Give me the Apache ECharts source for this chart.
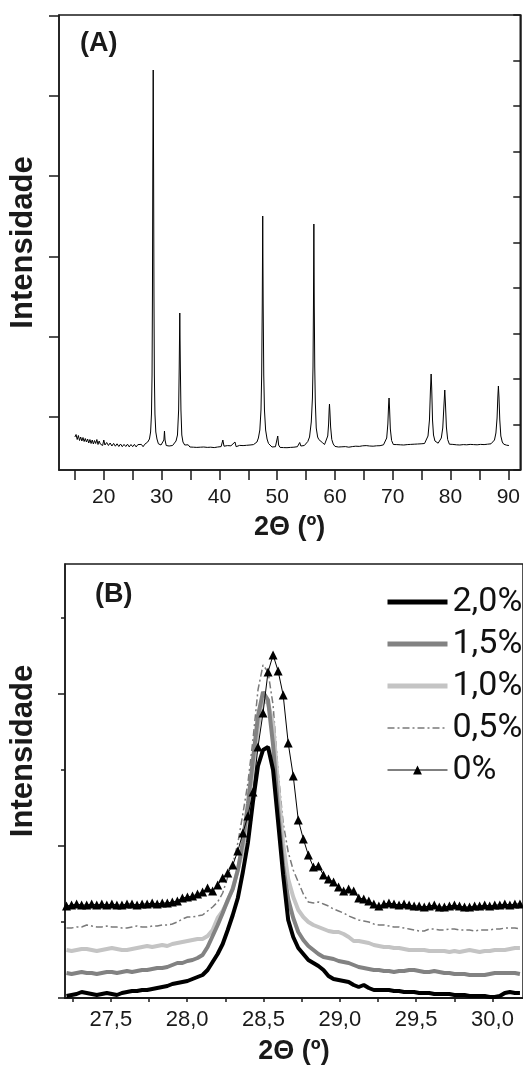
<!DOCTYPE html>
<html>
<head>
<meta charset="utf-8">
<script src="https://cdn.jsdelivr.net/npm/echarts@6/dist/echarts.min.js"></script>
<style>
  html, body { margin: 0; padding: 0; background: #fff; }
  #chart { width: 523px; height: 1067px; }
</style>
</head>
<body>
<div id="chart"></div>
<script>
// (A) difratograma completo: [2θ, intensidade]
const patternA = [
  [15.0, 330], [15.2, 355], [15.4, 305], [15.6, 345], [15.8, 295], [16.0, 330], [16.2, 290], [16.4, 325],
  [16.6, 285], [16.8, 315], [17.0, 280], [17.2, 310], [17.4, 270], [17.6, 305], [17.8, 265], [18.0, 300],
  [18.2, 260], [18.4, 295], [18.6, 265], [18.8, 305], [19.0, 255], [19.2, 290], [19.4, 260], [19.6, 280],
  [19.8, 245], [20.0, 300], [20.2, 250], [20.5, 275], [20.8, 245], [21.1, 270], [21.4, 240], [21.7, 266],
  [22.0, 238], [22.3, 262], [22.6, 235], [22.9, 260], [23.2, 233], [23.5, 256], [23.8, 235], [24.1, 258],
  [24.4, 231], [24.7, 255], [25.0, 233], [25.3, 256], [25.6, 231], [25.9, 254], [26.2, 235], [26.5, 256],
  [26.8, 233], [27.1, 258], [27.4, 250],
  [27.6, 280], [27.9, 310], [28.1, 380], [28.25, 560], [28.35, 950], [28.42, 1750], [28.48, 3000],
  [28.55, 4000], [28.62, 3000], [28.68, 1750], [28.75, 950], [28.85, 560], [29.0, 380], [29.2, 310],
  [29.45, 262], [29.7, 280], [29.9, 250], [30.2, 255], [30.4, 300], [30.5, 390], [30.6, 300], [30.8, 245],
  [31.0, 258], [31.3, 240], [31.6, 255], [31.9, 245], [32.2, 260], [32.5, 290], [32.75, 350], [32.95, 600],
  [33.05, 1020], [33.15, 1570], [33.25, 1020], [33.35, 600], [33.5, 350], [33.7, 280], [34.0, 250],
  [34.3, 236], [34.6, 252], [34.9, 230], [35.2, 247], [35.5, 228], [35.8, 246], [36.1, 226], [36.4, 244],
  [36.7, 228], [37.0, 247], [37.3, 230], [37.6, 242], [37.9, 226], [38.2, 245], [38.5, 228], [38.8, 244],
  [39.1, 224], [39.4, 242], [39.7, 230], [40.0, 247], [40.3, 234], [40.6, 300], [40.8, 238], [41.1, 226],
  [41.4, 244], [41.7, 224], [42.0, 242], [42.3, 228], [42.7, 280], [42.9, 233], [43.2, 226], [43.5, 246],
  [43.8, 228], [44.1, 244], [44.4, 226], [44.7, 247], [45.0, 230], [45.3, 250], [45.6, 236], [45.9, 254],
  [46.2, 255], [46.5, 280], [46.75, 320], [47.0, 400], [47.2, 600], [47.32, 950], [47.42, 1650],
  [47.5, 2540], [47.58, 1650], [47.68, 950], [47.8, 600], [48.0, 400], [48.25, 310], [48.5, 265],
  [48.8, 245], [49.1, 230], [49.4, 248], [49.7, 233], [50.0, 250], [50.1, 340], [50.25, 250], [50.5, 226],
  [50.8, 242], [51.1, 224], [51.4, 240], [51.7, 223], [52.0, 242], [52.3, 226], [52.6, 244], [52.9, 228],
  [53.2, 246], [53.5, 233], [53.9, 275], [54.1, 240], [54.4, 252], [54.7, 245], [55.0, 265], [55.3, 285],
  [55.6, 330], [55.9, 480], [56.1, 720], [56.2, 1030], [56.28, 1650], [56.35, 2460], [56.42, 1650],
  [56.5, 1030], [56.6, 680], [56.76, 420], [57.0, 330], [57.2, 305], [57.5, 290], [57.8, 275], [58.2, 255],
  [58.5, 275], [58.75, 340], [58.9, 460], [59.0, 610], [59.05, 660], [59.12, 590], [59.25, 430],
  [59.45, 305], [59.7, 260], [60.0, 236], [60.3, 250], [60.6, 230], [60.9, 248], [61.2, 232], [61.5, 252],
  [61.8, 234], [62.1, 250], [62.4, 228], [62.7, 247], [63.0, 234], [63.3, 252], [63.6, 238], [63.9, 256],
  [64.2, 236], [64.5, 254], [64.8, 242], [65.1, 262], [65.4, 244], [65.7, 258], [66.0, 240], [66.3, 257],
  [66.6, 238], [66.9, 254], [67.2, 242], [67.5, 258], [67.8, 243], [68.1, 260], [68.4, 252], [68.7, 270],
  [68.95, 320], [69.15, 460], [69.28, 650], [69.36, 720], [69.45, 610], [69.58, 410], [69.8, 295],
  [70.1, 255], [70.4, 238], [70.7, 254], [71.0, 236], [71.3, 252], [71.6, 234], [71.9, 250], [72.2, 236],
  [72.5, 254], [72.8, 238], [73.1, 256], [73.4, 240], [73.7, 258], [74.0, 242], [74.3, 260], [74.6, 244],
  [74.9, 262], [75.2, 252], [75.5, 265], [75.8, 285], [76.1, 340], [76.35, 500], [76.52, 800],
  [76.64, 960], [76.74, 820], [76.88, 500], [77.05, 350], [77.3, 290], [77.6, 272], [77.85, 268],
  [78.1, 285], [78.4, 320], [78.65, 420], [78.85, 640], [79.0, 800], [79.12, 660], [79.28, 430],
  [79.5, 305], [79.8, 258], [80.1, 240], [80.4, 256], [80.7, 236], [81.0, 252], [81.3, 234], [81.6, 250],
  [81.9, 238], [82.2, 254], [82.5, 236], [82.8, 252], [83.1, 240], [83.4, 256], [83.7, 238], [84.0, 254],
  [84.3, 236], [84.6, 252], [84.9, 240], [85.2, 256], [85.5, 238], [85.8, 254], [86.1, 242], [86.4, 258],
  [86.7, 248], [87.0, 262], [87.3, 270], [87.6, 300], [87.85, 370], [88.05, 520], [88.18, 730],
  [88.28, 840], [88.38, 730], [88.52, 500], [88.7, 340], [88.95, 280], [89.2, 258], [89.45, 272],
  [89.7, 248], [89.9, 264], [90.1, 245]
];
const yTicksA = [530, 1335, 2135, 2940, 3740, 4540];
const xTicksA = [15, 20, 25, 30, 35, 40, 45, 50, 55, 60, 65, 70, 75, 80, 85, 90];
const xLabelsA = [20, 30, 40, 50, 60, 70, 80, 90];

// (B) detalhe do pico principal
const thetaB = [
  27.210, 27.243, 27.276, 27.309, 27.342, 27.375, 27.408, 27.441, 27.474, 27.507,
  27.540, 27.573, 27.606, 27.639, 27.672, 27.705, 27.738, 27.771, 27.804, 27.837,
  27.870, 27.903, 27.936, 27.969, 28.002, 28.035, 28.068, 28.101, 28.134, 28.167,
  28.200, 28.233, 28.266, 28.299, 28.332, 28.365, 28.398, 28.431, 28.464, 28.497,
  28.530, 28.563, 28.596, 28.629, 28.662, 28.695, 28.728, 28.761, 28.794, 28.827,
  28.860, 28.893, 28.926, 28.959, 28.992, 29.025, 29.058, 29.091, 29.124, 29.157,
  29.190, 29.223, 29.256, 29.289, 29.322, 29.355, 29.388, 29.421, 29.454, 29.487,
  29.520, 29.553, 29.586, 29.619, 29.652, 29.685, 29.718, 29.751, 29.784, 29.817,
  29.850, 29.883, 29.916, 29.949, 29.982, 30.015, 30.048, 30.081, 30.114, 30.147,
  30.180
];
const pct20 = [
  20, 30, 40, 60, 50, 40, 30, 40, 50, 40, 30, 50, 60, 70, 70, 80, 80, 90, 100, 110, 120, 140, 150,
  160, 170, 190, 210, 230, 280, 360, 440,
  540, 680, 830, 1000, 1260, 1550, 1960, 2320, 2480, 2510,
  2280, 1760, 1230, 780, 610, 500, 440, 380, 350, 320,
  280, 220, 190, 180, 170, 160, 130, 110, 130, 100,
  80, 80, 80, 80, 70, 70, 60, 60, 60, 50,
  50, 50, 40, 40, 40, 40, 30, 30, 30, 20,
  20, 20, 20, 10, 10, 20, 50, 60, 50, 50
];
const pct15 = [
  250, 240, 250, 260, 250, 250, 240, 250, 260, 260, 250, 260, 270, 260, 270, 280, 280, 290, 300, 300, 310, 330, 350,
  350, 370, 380, 400, 430, 510, 620, 730,
  850, 980, 1090, 1280, 1560, 1940, 2380, 2820, 3060, 2980,
  2530, 1880, 1320, 990, 800, 660, 580, 520, 480, 440,
  410, 400, 390, 370, 360, 350, 330, 310, 300, 290,
  280, 280, 270, 270, 260, 270, 270, 280, 280, 270,
  260, 260, 270, 260, 250, 250, 240, 240, 240, 230,
  230, 230, 230, 240, 250, 250, 250, 250, 250, 240
];
const pct10 = [
  480, 470, 480, 490, 490, 480, 470, 480, 490, 500, 490, 480, 480, 490, 500, 510, 520, 510, 520, 530, 520, 540, 550,
  560, 570, 580, 590, 590, 620, 680, 800,
  870, 970, 1100, 1280, 1480, 1800, 2250, 2710, 2980, 2950,
  2740, 2120, 1540, 1190, 1010, 880, 810, 760, 730, 710,
  690, 670, 660, 660, 640, 610, 570, 570, 560, 550,
  530, 520, 510, 510, 500, 500, 490, 480, 480, 480,
  480, 470, 470, 470, 470, 460, 470, 460, 470, 480,
  470, 460, 470, 470, 480, 480, 480, 490, 500, 500
];
const pct05 = [
  700, 700, 710, 710, 730, 720, 710, 710, 720, 710, 710, 700, 700, 710, 720, 710, 710, 720, 720, 730, 730, 740, 760,
  790, 810, 810, 820, 830, 870, 910, 960,
  1050, 1210, 1340, 1550, 1840, 2150, 2580, 3080, 3330, 3260,
  2930, 2260, 1750, 1460, 1280, 1160, 1040, 960, 950, 960,
  940, 920, 890, 870, 850, 820, 800, 780, 770, 760,
  740, 730, 730, 720, 710, 710, 700, 690, 680, 670,
  670, 690, 690, 680, 680, 690, 690, 680, 680, 680,
  670, 680, 680, 680, 690, 690, 700, 700, 700, 690
];
const pct00 = [
  920, 930, 940, 930, 930, 940, 930, 940, 930, 940, 930, 930, 940, 940, 930, 940, 940, 950, 940, 950, 950,
  960, 970, 1000, 1010, 1020, 1040, 1060, 1100, 1070, 1130,
  1200, 1250, 1330, 1470, 1650, 1820, 2060, 2510, 2850, 3260,
  3430, 3270, 3030, 2550, 2220, 1780, 1590, 1430, 1310, 1320,
  1230, 1190, 1160, 1110, 1070, 1090, 1070, 1000, 990, 970,
  940, 920, 940, 950, 940, 930, 940, 930, 920, 920,
  910, 920, 930, 910, 910, 920, 930, 920, 910, 910,
  920, 920, 930, 920, 930, 930, 940, 930, 940, 940
];
const namesB = ['2,0%', '1,5%', '1,0%', '0,5%', '0%'];
const xTicksB = [27.25, 27.5, 27.75, 28.0, 28.25, 28.5, 28.75, 29.0, 29.25, 29.5, 29.75, 30.0];
const xLabelsB = [27.5, 28.0, 28.5, 29.0, 29.5, 30.0];
const majorTicksB = [0, 1520, 3040];
const minorTicksB = [760, 2280, 3800];

const ink = '#1a1a1a';
const sans = "'Liberation Sans', Arial, sans-serif";
const toPairs = vals => thetaB.map((t, i) => [t, vals[i]]);
const comma = v => v.toFixed(1).replace('.', ',');

// legenda: linhas grossas sem marcador, 0% com triângulo
const legendItems = namesB.map(n => n === '0%'
  ? { name: n, lineStyle: { width: 1 } }
  : { name: n, itemStyle: { opacity: 0 }, lineStyle: { width: n === '0,5%' ? 1.5 : 5 } });

const chart = echarts.init(document.getElementById('chart'));
chart.setOption({
  animation: false,
  title: [
    { text: '(A)', left: 80, top: 30, padding: 0, textStyle: { fontFamily: sans, fontSize: 27, fontWeight: 'bold', color: ink } },
    { text: '(B)', left: 95, top: 581, padding: 0, textStyle: { fontFamily: sans, fontSize: 27, fontWeight: 'bold', color: ink } }
  ],
  legend: {
    data: legendItems,
    orient: 'vertical',
    left: 385,
    top: 585,
    padding: 0,
    itemWidth: 60,
    itemHeight: 11,
    itemGap: 8,
    textStyle: { fontFamily: 'Roboto, sans-serif', fontSize: 34, color: '#111' }
  },
  grid: [
    { left: 58, top: 15, right: 1, bottom: 597, show: true, borderColor: ink, borderWidth: 1.5 },
    { left: 62, top: 564, right: -5, bottom: 69, show: true, borderColor: ink, borderWidth: 1.5 }
  ],
  xAxis: [
    {
      gridIndex: 0, type: 'value', min: 12.25, max: 92.06,
      axisLine: { lineStyle: { color: ink, width: 1.5 } },
      axisTick: { customValues: xTicksA, length: 10, lineStyle: { color: ink, width: 1.5 } },
      axisLabel: { customValues: xLabelsA, margin: 17, fontFamily: sans, fontSize: 21, color: ink },
      splitLine: { show: false },
      name: '2Θ (º)', nameLocation: 'middle', nameGap: 44,
      nameTextStyle: { fontFamily: sans, fontSize: 27, fontWeight: 'bold', color: ink }
    },
    {
      gridIndex: 1, type: 'value', min: 27.2, max: 30.2,
      axisLine: { lineStyle: { color: ink, width: 2 } },
      axisTick: { customValues: xTicksB, length: 4, lineStyle: { color: ink, width: 1.5 } },
      axisLabel: { customValues: xLabelsB, margin: 11, fontFamily: sans, fontSize: 22, color: ink, formatter: comma },
      splitLine: { show: false },
      name: '2Θ (º)', nameLocation: 'middle', nameGap: 40,
      nameTextStyle: { fontFamily: sans, fontSize: 27, fontWeight: 'bold', color: ink }
    }
  ],
  yAxis: [
    {
      gridIndex: 0, type: 'value', min: 0, max: 4550,
      axisLine: { show: true, lineStyle: { color: ink, width: 1.5 } },
      axisTick: { customValues: yTicksA, length: 10, lineStyle: { color: ink, width: 1.5 } },
      axisLabel: { show: false },
      splitLine: { show: false },
      name: 'Intensidade', nameLocation: 'middle', nameGap: 20,
      nameTextStyle: { fontFamily: sans, fontSize: 31, fontWeight: 'bold', color: ink }
    },
    {
      gridIndex: 0, type: 'value', position: 'right', min: 0, max: 10, interval: 1,
      axisLine: { show: true, lineStyle: { color: ink, width: 1.5 } },
      axisTick: { inside: true, length: 7, lineStyle: { color: ink, width: 1.5 } },
      axisLabel: { show: false },
      splitLine: { show: false }
    },
    {
      gridIndex: 1, type: 'value', min: 0, max: 4340,
      axisLine: { show: true, lineStyle: { color: ink, width: 1.5 } },
      axisTick: { customValues: majorTicksB, length: 7, lineStyle: { color: ink, width: 1.5 } },
      axisLabel: { show: false },
      splitLine: { show: false },
      name: 'Intensidade', nameLocation: 'middle', nameGap: 26,
      nameTextStyle: { fontFamily: sans, fontSize: 31, fontWeight: 'bold', color: ink, padding: [0, 0, 0, 60] }
    },
    {
      gridIndex: 1, type: 'value', position: 'left', min: 0, max: 4340,
      axisLine: { show: false },
      axisTick: { customValues: minorTicksB, length: 4, lineStyle: { color: ink, width: 1.5 } },
      axisLabel: { show: false },
      splitLine: { show: false }
    }
  ],
  series: [
    {
      type: 'line', xAxisIndex: 0, yAxisIndex: 0, data: patternA,
      symbol: 'none', silent: true, lineStyle: { color: '#000', width: 1 }
    },
    {
      name: '0,5%', type: 'line', xAxisIndex: 1, yAxisIndex: 2, data: toPairs(pct05),
      symbol: 'none', itemStyle: { color: '#7a7a7a' },
      lineStyle: { color: '#7a7a7a', width: 1.5, type: [7, 3, 2, 3] }
    },
    {
      name: '1,0%', type: 'line', xAxisIndex: 1, yAxisIndex: 2, data: toPairs(pct10),
      symbol: 'none', itemStyle: { color: '#c4c4c4' },
      lineStyle: { color: '#c4c4c4', width: 4 }
    },
    {
      name: '1,5%', type: 'line', xAxisIndex: 1, yAxisIndex: 2, data: toPairs(pct15),
      symbol: 'none', itemStyle: { color: '#828282' },
      lineStyle: { color: '#828282', width: 4 }
    },
    {
      name: '2,0%', type: 'line', xAxisIndex: 1, yAxisIndex: 2, data: toPairs(pct20),
      symbol: 'none', itemStyle: { color: '#000' },
      lineStyle: { color: '#000', width: 4 }
    },
    {
      name: '0%', type: 'line', xAxisIndex: 1, yAxisIndex: 2, data: toPairs(pct00),
      symbol: 'triangle', symbolSize: 9, showAllSymbol: true,
      itemStyle: { color: '#000' },
      lineStyle: { color: '#000', width: 1 }
    }
  ]
});
</script>
</body>
</html>
